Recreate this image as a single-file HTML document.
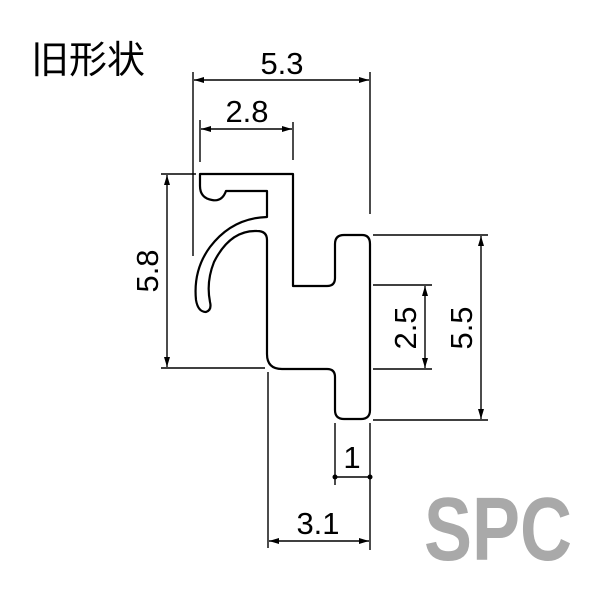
<!DOCTYPE html>
<html><head><meta charset="utf-8"><style>
html,body{margin:0;padding:0;background:#fff;width:600px;height:600px;overflow:hidden}
</style></head><body>
<svg width="600" height="600" viewBox="0 0 600 600" xmlns="http://www.w3.org/2000/svg">
<defs>
<marker id="a" viewBox="0 0 10 6" refX="10" refY="3" markerWidth="10" markerHeight="6" orient="auto-start-reverse" markerUnits="userSpaceOnUse"><path d="M0,0 L10,3 L0,6 z" fill="#000"/></marker>
</defs>
<text x="31" y="73" font-family="'Liberation Sans','Noto Sans CJK JP',sans-serif" font-size="38" fill="#000">旧形状</text>
<g fill="none" stroke="#000" stroke-width="2.2" stroke-linejoin="round">
<path d="M200,174 L293,174 L293,286 L327,286 Q335,286 335,278 L335,244 Q335,235 344,235 L362,235 Q370,235 370,244 L370,410 Q370,419 361,419 L344,419 Q335,419 335,410 L335,377 Q335,369 327,369 L282,369 Q267,369 267,354 L267,240 Q267,231 257,231 Q230,230 214,262 Q206,282 210,302 Q212,310 206,312 Q198,312 196,300 Q193,270 210,247 Q232,218 267,217 L267,191 L226,191 Q222,202 212,200 Q200,198 200,186 Z"/>
</g>
<g stroke="#000" stroke-width="1.4" fill="none">
<line x1="193" y1="72" x2="193" y2="256"/>
<line x1="370" y1="72" x2="370" y2="214"/>
<line x1="194" y1="80" x2="369" y2="80" marker-start="url(#a)" marker-end="url(#a)"/>
<line x1="200" y1="120" x2="200" y2="162"/>
<line x1="293" y1="122" x2="293" y2="160"/>
<line x1="201" y1="129" x2="292" y2="129" marker-start="url(#a)" marker-end="url(#a)"/>
<line x1="161" y1="174" x2="196" y2="174"/>
<line x1="161" y1="368" x2="265" y2="368"/>
<line x1="167" y1="175" x2="167" y2="367" marker-start="url(#a)" marker-end="url(#a)"/>
<line x1="373" y1="235" x2="488" y2="235"/>
<line x1="373" y1="420" x2="488" y2="420"/>
<line x1="481" y1="236" x2="481" y2="419" marker-start="url(#a)" marker-end="url(#a)"/>
<line x1="373" y1="285" x2="432" y2="285"/>
<line x1="373" y1="369" x2="432" y2="369"/>
<line x1="425" y1="286" x2="425" y2="368" marker-start="url(#a)" marker-end="url(#a)"/>
<line x1="335" y1="423" x2="335" y2="485"/>
<line x1="370" y1="423" x2="370" y2="550"/>
<line x1="335" y1="477" x2="370" y2="477"/>
<line x1="268" y1="372" x2="268" y2="548"/>
<line x1="269" y1="541" x2="369" y2="541" marker-start="url(#a)" marker-end="url(#a)"/>
</g>
<circle cx="335" cy="477" r="2.5"/><circle cx="370" cy="477" r="2.5"/>
<g font-family="'Liberation Sans',sans-serif" font-size="31" fill="#000" text-anchor="middle">
<text x="282" y="74">5.3</text>
<text x="247" y="122">2.8</text>
<text x="352" y="468">1</text>
<text x="318" y="534">3.1</text>
<text transform="translate(158,271) rotate(-90)">5.8</text>
<text transform="translate(416,328) rotate(-90)">2.5</text>
<text transform="translate(472,328) rotate(-90)">5.5</text>
</g>
<text x="498" y="560" text-anchor="middle" font-family="'Liberation Sans',sans-serif" font-weight="bold" font-size="90" fill="#a9a9a9" textLength="148" lengthAdjust="spacingAndGlyphs">SPC</text>
</svg>
</body></html>
